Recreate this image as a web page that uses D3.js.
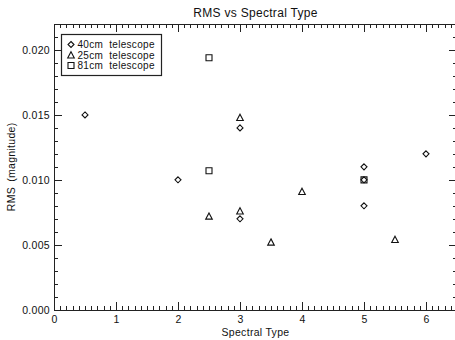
<!DOCTYPE html>
<html lang="en">
<head>
<meta charset="UTF-8">
<title>RMS vs Spectral Type</title>
<script src="https://d3js.org/d3.v7.min.js"></script>
<style>
  body { margin: 0; background: #fff; }
  text { font-family: "Liberation Sans", Arial, sans-serif; fill: #111; letter-spacing: 0.3px; }
  .axis path, .axis line { stroke: #222; shape-rendering: crispEdges; }
</style>
</head>
<body>
<div id="chart"></div>
<script>
// data
const scope40_type = [0.5, 2, 3, 3, 5, 5, 5, 6];
const scope40_rms  = [0.0150, 0.0100, 0.0140, 0.0070, 0.0110, 0.0100, 0.0080, 0.0120];

const scope25_type = [2.5, 3, 3, 3.5, 4, 5.5];
const scope25_rms  = [0.0072, 0.0148, 0.0076, 0.0052, 0.0091, 0.0054];

const scope81_type = [2.5, 2.5, 5];
const scope81_rms  = [0.0194, 0.0107, 0.0100];

const legendLabels = ["40cm telescope", "25cm telescope", "81cm telescope"];
const xTicks = [0, 1, 2, 3, 4, 5, 6];
const yTicks = [0, 0.005, 0.010, 0.015, 0.020];

const W = 455, H = 340;
const mLeft = 54, mRight = 457, mTop = 24, mBottom = 309.7;

const svg = d3.select("#chart").append("svg")
  .attr("width", W)
  .attr("height", H);

const x = d3.scaleLinear().domain([0, 6.5]).range([mLeft, mRight]);
const y = d3.scaleLinear().domain([0, 0.022]).range([mBottom, mTop]);

const xMinor = d3.range(0, 6.51, 0.1).map(v => Math.round(v * 10) / 10);
const yMinor = d3.range(0, 0.0221, 0.001).map(v => Math.round(v * 10000) / 10000);

// bottom axis
svg.append("g").attr("class", "axis")
  .attr("transform", `translate(0,${mBottom})`)
  .call(d3.axisBottom(x).tickValues(xMinor).tickSize(-4).tickFormat(""))
  .call(g => g.select(".domain").remove());
svg.append("g").attr("class", "axis")
  .attr("transform", `translate(0,${mBottom})`)
  .call(d3.axisBottom(x).tickValues(xTicks).tickSizeInner(-8).tickSizeOuter(0).tickPadding(6).tickFormat(d3.format("d")))
  .call(g => g.selectAll("text").style("font-size", "10.5px"));

// top axis
svg.append("g").attr("class", "axis")
  .attr("transform", `translate(0,${mTop})`)
  .call(d3.axisTop(x).tickValues(xMinor).tickSize(-4).tickFormat(""))
  .call(g => g.select(".domain").remove());
svg.append("g").attr("class", "axis")
  .attr("transform", `translate(0,${mTop})`)
  .call(d3.axisTop(x).tickValues(xTicks).tickSizeInner(-8).tickSizeOuter(0).tickFormat(""));

// left axis
svg.append("g").attr("class", "axis")
  .attr("transform", `translate(${mLeft},0)`)
  .call(d3.axisLeft(y).tickValues(yMinor).tickSize(-4).tickFormat(""))
  .call(g => g.select(".domain").remove());
svg.append("g").attr("class", "axis")
  .attr("transform", `translate(${mLeft},0)`)
  .call(d3.axisLeft(y).tickValues(yTicks).tickSizeInner(-8).tickSizeOuter(0).tickPadding(4).tickFormat(d3.format(".3f")))
  .call(g => g.selectAll("text").style("font-size", "10.5px"));

// right axis
svg.append("g").attr("class", "axis")
  .attr("transform", `translate(${mRight},0)`)
  .call(d3.axisRight(y).tickValues(yMinor).tickSize(-4).tickFormat(""))
  .call(g => g.select(".domain").remove());
svg.append("g").attr("class", "axis")
  .attr("transform", `translate(${mRight},0)`)
  .call(d3.axisRight(y).tickValues(yTicks).tickSizeInner(-8).tickSizeOuter(0).tickFormat(""));

// titles
svg.append("text")
  .attr("x", (mLeft + mRight) / 2).attr("y", 17)
  .attr("text-anchor", "middle")
  .style("font-size", "12px")
  .text("RMS vs Spectral Type");

svg.append("text")
  .attr("x", (mLeft + mRight) / 2).attr("y", 336)
  .attr("text-anchor", "middle")
  .style("font-size", "10.5px")
  .text("Spectral Type");

svg.append("text")
  .attr("transform", `translate(15,${(mTop + mBottom) / 2}) rotate(-90)`)
  .attr("text-anchor", "middle")
  .style("font-size", "10.5px")
  .style("word-spacing", "2px")
  .text("RMS (magnitude)");

// marker shapes
function diamond(s) { return `M0,${-s}L${s},0L0,${s}L${-s},0Z`; }
function square(s) { return `M${-s},${-s}H${s}V${s}H${-s}Z`; }
function triangle(s) { return `M0,${-s}L${s},${s * 0.9}H${-s}Z`; }

const series = [
  { xs: scope40_type, ys: scope40_rms, shape: diamond, size: 3 },
  { xs: scope25_type, ys: scope25_rms, shape: triangle, size: 3.3 },
  { xs: scope81_type, ys: scope81_rms, shape: square, size: 3 }
];

series.forEach(s => {
  svg.append("g")
    .selectAll("path")
    .data(s.xs.map((v, i) => [v, s.ys[i]]))
    .join("path")
    .attr("transform", d => `translate(${x(d[0])},${y(d[1])})`)
    .attr("d", s.shape(s.size))
    .attr("fill", "none")
    .attr("stroke", "#111")
    .attr("stroke-width", 1.1);
});

// legend
const lg = svg.append("g");
lg.append("rect")
  .attr("x", 61.5).attr("y", 34.5)
  .attr("width", 100).attr("height", 41)
  .attr("fill", "#fff").attr("stroke", "#222").attr("stroke-width", 1.2);

legendLabels.forEach((lab, i) => {
  const cy = 44.5 + i * 10.5;
  lg.append("path")
    .attr("transform", `translate(71,${cy})`)
    .attr("d", series[i].shape(series[i].size))
    .attr("fill", "none").attr("stroke", "#111").attr("stroke-width", 1.1);
  lg.append("text")
    .attr("x", 77.5).attr("y", cy + 3.6)
    .style("font-size", "10px")
    .style("word-spacing", "3px")
    .text(lab);
});
</script>
</body>
</html>
